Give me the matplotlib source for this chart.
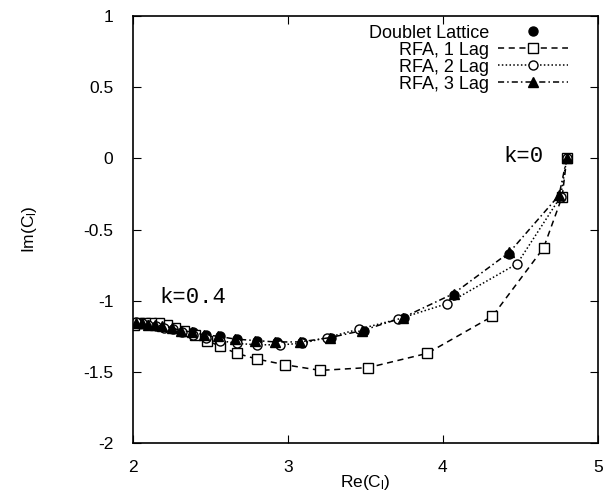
import matplotlib
matplotlib.use("Agg")
import matplotlib.pyplot as plt

plt.rcParams['font.family'] = ['Liberation Sans', 'DejaVu Sans']
plt.rcParams['mathtext.fontset'] = 'custom'
plt.rcParams['mathtext.rm'] = 'Liberation Sans'
plt.rcParams['mathtext.it'] = 'Liberation Sans'

# Doublet lattice (filled circles)
dl_re = [4.80, 4.43, 4.07, 3.75, 3.49, 3.28, 3.09, 2.93, 2.80, 2.67, 2.56, 2.47, 2.39, 2.32, 2.25, 2.19, 2.14, 2.10, 2.06, 2.02]
dl_im = [0.00, -0.67, -0.96, -1.12, -1.21, -1.26, -1.29, -1.29, -1.28, -1.27, -1.25, -1.24, -1.22, -1.21, -1.19, -1.18, -1.17, -1.17, -1.16, -1.16]

# RFA, 1 Lag (squares)
l1_re = [4.80, 4.77, 4.65, 4.32, 3.90, 3.52, 3.21, 2.98, 2.80, 2.67, 2.56, 2.48, 2.40, 2.33, 2.27, 2.22, 2.17, 2.12, 2.08, 2.04, 2.01]
l1_im = [0.00, -0.27, -0.63, -1.11, -1.37, -1.47, -1.49, -1.45, -1.41, -1.37, -1.32, -1.28, -1.24, -1.21, -1.19, -1.17, -1.16, -1.16, -1.16, -1.16, -1.17]

# RFA, 2 Lag (open circles)
l2_re = [4.80, 4.76, 4.48, 4.03, 3.71, 3.46, 3.25, 3.09, 2.95, 2.80, 2.67, 2.56, 2.47, 2.39, 2.32, 2.26, 2.20, 2.15, 2.10, 2.06, 2.02]
l2_im = [0.00, -0.27, -0.74, -1.02, -1.13, -1.20, -1.26, -1.30, -1.31, -1.31, -1.30, -1.28, -1.26, -1.24, -1.22, -1.20, -1.19, -1.18, -1.17, -1.16, -1.15]

# RFA, 3 Lag (triangles)
l3_re = [4.80, 4.75, 4.43, 4.07, 3.74, 3.48, 3.27, 3.08, 2.92, 2.79, 2.66, 2.55, 2.46, 2.38, 2.31, 2.25, 2.19, 2.14, 2.10, 2.06, 2.02]
l3_im = [0.00, -0.26, -0.66, -0.95, -1.12, -1.21, -1.26, -1.29, -1.29, -1.28, -1.27, -1.25, -1.24, -1.22, -1.21, -1.19, -1.18, -1.17, -1.17, -1.16, -1.16]

fig = plt.figure(figsize=(6.15, 5.0), dpi=100)
ax = fig.add_axes([0.216, 0.114, 0.756, 0.854])

ax.plot(dl_re, dl_im, 'o', color='black', markersize=6.5, label='Doublet Lattice')
ax.plot(l1_re, l1_im, color='black', linestyle=(0, (4, 3)), linewidth=1.1,
        marker='s', markersize=6.5, markerfacecolor='white', markeredgewidth=1.0, label='RFA, 1 Lag')
ax.plot(l2_re, l2_im, color='black', linestyle=(0, (1, 1.5)), linewidth=1.1,
        marker='o', markersize=6.5, markerfacecolor='white', markeredgewidth=1.0, label='RFA, 2 Lag')
ax.plot(l3_re, l3_im, color='black', linestyle=(0, (4, 2, 1, 2)), linewidth=1.1,
        marker='^', markersize=6.5, markerfacecolor='black', markeredgewidth=1.0, label='RFA, 3 Lag')

ax.set_xlim(2, 5)
ax.set_ylim(-2, 1)
ax.set_xticks([2, 3, 4, 5])
ax.set_yticks([-2, -1.5, -1, -0.5, 0, 0.5, 1])
ax.set_yticklabels(['-2', '-1.5', '-1', '-0.5', '0', '0.5', '1'])
ax.tick_params(direction='in', top=True, right=True, length=6, labelsize=12.5)
ax.tick_params(axis='y', pad=14)
ax.tick_params(axis='x', pad=12)
for s in ax.spines.values():
    s.set_linewidth(1.2)

ax.set_xlabel('Re(C$_l$)', fontsize=12.5, labelpad=-1)
ax.set_ylabel('Im(C$_l$)', fontsize=12.5, labelpad=32)

ax.text(2.17, -0.98, 'k=0.4', family='Liberation Mono', fontsize=16, ha='left', va='center')
ax.text(4.39, 0.01, 'k=0', family='Liberation Mono', fontsize=16, ha='left', va='center')

ax.legend(loc='upper right', frameon=False, markerfirst=False, fontsize=13,
          handlelength=3.9, handletextpad=0.5, labelspacing=0.0,
          bbox_to_anchor=(0.96, 1.005), borderaxespad=0.2)

fig.savefig('out.png', dpi=100)
